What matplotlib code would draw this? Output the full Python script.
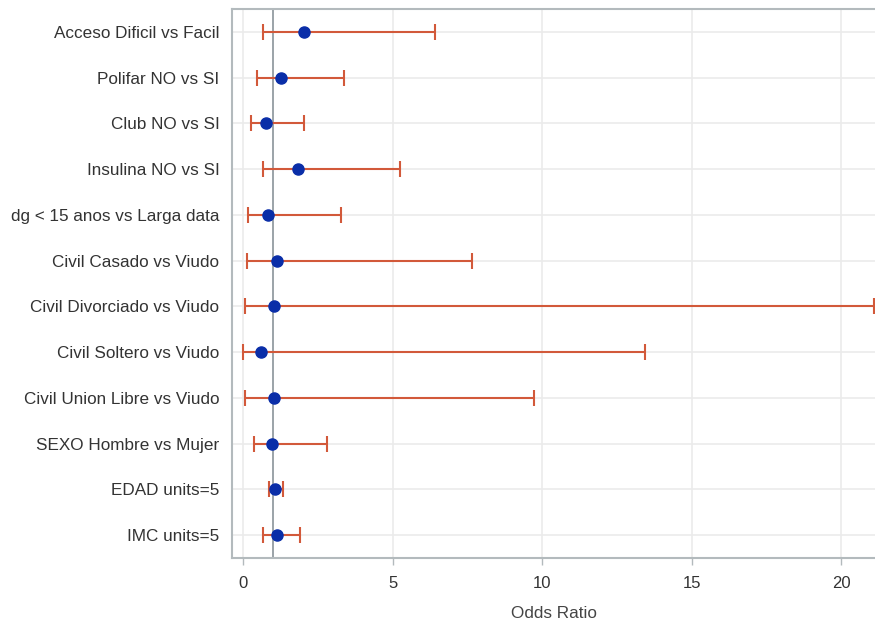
import matplotlib
matplotlib.use("Agg")
import matplotlib.pyplot as plt

labels = ["Acceso Dificil vs Facil", "Polifar NO vs SI", "Club NO vs SI",
          "Insulina NO vs SI", "dg < 15 anos vs Larga data",
          "Civil Casado vs Viudo", "Civil Divorciado vs Viudo",
          "Civil Soltero vs Viudo", "Civil Union Libre vs Viudo",
          "SEXO Hombre vs Mujer", "EDAD units=5", "IMC units=5"]
odds = [2.04, 1.27, 0.76, 1.84, 0.85, 1.13, 1.03, 0.61, 1.03, 0.98, 1.07, 1.13]
lower = [0.65, 0.47, 0.28, 0.67, 0.18, 0.12, 0.06, 0.00, 0.08, 0.38, 0.88, 0.67]
upper = [6.41, 3.37, 2.04, 5.24, 3.28, 7.66, 21.1, 13.43, 9.73, 2.81, 1.33, 1.90]
xticks = [0, 5, 10, 15, 20]

plt.rcParams['font.family'] = ['Liberation Sans', 'DejaVu Sans']

fig = plt.figure(figsize=(8.75, 6.27), dpi=100)
ax = fig.add_axes([232/875, 1-558/627, 1-232/875, (558-9)/627])

ypos = list(range(len(labels)))
xerr = [[o - l for o, l in zip(odds, lower)], [u - o for o, u in zip(odds, upper)]]

ax.axvline(1, color='#8a9499', lw=1.2, zorder=2)
ax.errorbar(odds, ypos, xerr=xerr, fmt='none', ecolor='#d2593a', elinewidth=1.5,
            capsize=6, capthick=1.5, zorder=3)
ax.plot(odds, ypos, 'o', color='#0a2ea8', ms=8, zorder=4)

ax.set_ylim(len(labels) - 0.5, -0.5)
ax.set_xlim(-0.37, 21.13)
ax.set_yticks(ypos)
ax.set_yticklabels(labels)
ax.set_xticks(xticks)
ax.grid(True, color='#ebebeb', lw=1.2, zorder=0)
ax.set_axisbelow(True)

for s in ['left', 'top', 'bottom']:
    ax.spines[s].set_color('#b3babd')
    ax.spines[s].set_linewidth(1.5)
ax.spines['right'].set_visible(False)

ax.tick_params(axis='y', length=0, pad=9, labelsize=12.3, labelcolor='#333333')
ax.tick_params(axis='x', length=5, width=1, color='#b3babd', pad=8,
               labelsize=12, labelcolor='#333333')
ax.set_xlabel("Odds Ratio", fontsize=12.3, color='#444444', labelpad=11)

fig.savefig("out.png", dpi=100)
